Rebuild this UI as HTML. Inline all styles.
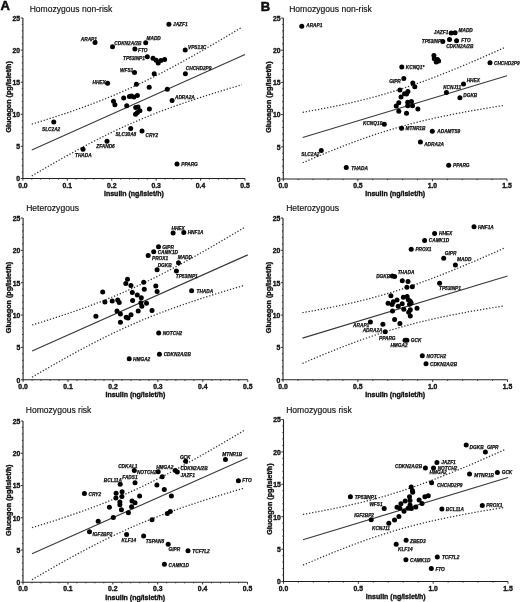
<!DOCTYPE html>
<html><head><meta charset="utf-8"><style>
html,body{margin:0;padding:0;background:#fff;}
svg{display:block;will-change:transform;}

text{font-family:"Liberation Sans", sans-serif;fill:#111;}
.tl{font-size:6.8px;font-weight:bold;stroke:#111;stroke-width:0.35px;}
.at{font-size:7px;font-weight:bold;stroke:#111;stroke-width:0.35px;}
.tt{font-size:8.55px;stroke:#111;stroke-width:0.15px;}
.lt{font-size:13px;font-weight:bold;stroke:#000;stroke-width:0.5px;}
.gl{font-size:4.75px;font-weight:bold;font-style:italic;stroke:#111;stroke-width:0.25px;}
</style></head><body>
<svg width="520" height="602" viewBox="0 0 520 602">
<rect width="520" height="602" fill="#fff"/>
<path d="M22.90 18.00V178.50H245.00" fill="none" stroke="#222" stroke-width="1.1"/>
<path d="M20.70 178.50H22.90 M21.80 172.08H22.90 M21.80 165.66H22.90 M21.80 159.24H22.90 M21.80 152.82H22.90 M20.70 146.40H22.90 M21.80 139.98H22.90 M21.80 133.56H22.90 M21.80 127.14H22.90 M21.80 120.72H22.90 M20.70 114.30H22.90 M21.80 107.88H22.90 M21.80 101.46H22.90 M21.80 95.04H22.90 M21.80 88.62H22.90 M20.70 82.20H22.90 M21.80 75.78H22.90 M21.80 69.36H22.90 M21.80 62.94H22.90 M21.80 56.52H22.90 M20.70 50.10H22.90 M21.80 43.68H22.90 M21.80 37.26H22.90 M21.80 30.84H22.90 M21.80 24.42H22.90 M20.70 18.00H22.90 M22.90 178.50V180.70 M31.78 178.50V179.60 M40.67 178.50V179.60 M49.55 178.50V179.60 M58.44 178.50V179.60 M67.32 178.50V180.70 M76.20 178.50V179.60 M85.09 178.50V179.60 M93.97 178.50V179.60 M102.86 178.50V179.60 M111.74 178.50V180.70 M120.62 178.50V179.60 M129.51 178.50V179.60 M138.39 178.50V179.60 M147.28 178.50V179.60 M156.16 178.50V180.70 M165.04 178.50V179.60 M173.93 178.50V179.60 M182.81 178.50V179.60 M191.70 178.50V179.60 M200.58 178.50V180.70 M209.46 178.50V179.60 M218.35 178.50V179.60 M227.23 178.50V179.60 M236.12 178.50V179.60 M245.00 178.50V180.70" fill="none" stroke="#222" stroke-width="0.9"/>
<text x="20.10" y="181.30" class="tl" text-anchor="end">0</text>
<text x="20.10" y="149.20" class="tl" text-anchor="end">5</text>
<text x="20.10" y="117.10" class="tl" text-anchor="end">10</text>
<text x="20.10" y="85.00" class="tl" text-anchor="end">15</text>
<text x="20.10" y="52.90" class="tl" text-anchor="end">20</text>
<text x="20.10" y="20.80" class="tl" text-anchor="end">25</text>
<text x="22.90" y="187.50" class="tl" text-anchor="middle">0.0</text>
<text x="67.32" y="187.50" class="tl" text-anchor="middle">0.1</text>
<text x="111.74" y="187.50" class="tl" text-anchor="middle">0.2</text>
<text x="156.16" y="187.50" class="tl" text-anchor="middle">0.3</text>
<text x="200.58" y="187.50" class="tl" text-anchor="middle">0.4</text>
<text x="245.00" y="187.50" class="tl" text-anchor="middle">0.5</text>
<text x="133.95" y="195.80" class="at" text-anchor="middle">Insulin (ng/islet/h)</text>
<text transform="translate(11.00 96.85) rotate(-90)" class="at" style="font-size:7.2px" text-anchor="middle">Glucagon (pg/islet/h)</text>
<text x="29.70" y="11.90" class="tt">Homozygous non-risk</text>
<text x="0.60" y="10.10" class="lt">A</text>
<path d="M31.78 150.06L245.00 54.59" stroke="#3a3a3a" stroke-width="1.15" fill="none"/>
<path d="M31.78 124.16L37.04 122.54L42.29 120.91L47.54 119.25L52.79 117.57L58.05 115.85L63.30 114.11L68.55 112.34L73.81 110.53L79.06 108.68L84.31 106.79L89.56 104.86L94.82 102.88L100.07 100.85L105.32 98.77L110.57 96.63L115.83 94.44L121.08 92.19L126.33 89.88L131.58 87.51L136.84 85.08L142.09 82.59L147.34 80.04L152.60 77.44L157.85 74.78L163.10 72.08L168.35 69.32L173.61 66.52L178.86 63.68L184.11 60.80L189.36 57.88L194.62 54.93L199.87 51.95L205.12 48.94L210.37 45.90L215.63 42.84L220.88 39.76L226.13 36.66L231.39 33.54L236.64 30.40L241.89 27.24" stroke="#333" stroke-width="1.25" fill="none" stroke-dasharray="1.3 1.8"/>
<path d="M31.78 175.96L37.04 172.87L42.29 169.80L47.54 166.76L52.79 163.74L58.05 160.75L63.30 157.78L68.55 154.85L73.81 151.96L79.06 149.10L84.31 146.29L89.56 143.52L94.82 140.79L100.07 138.12L105.32 135.50L110.57 132.93L115.83 130.42L121.08 127.97L126.33 125.58L131.58 123.24L136.84 120.97L142.09 118.75L147.34 116.60L152.60 114.50L157.85 112.45L163.10 110.45L168.35 108.50L173.61 106.60L178.86 104.73L184.11 102.91L189.36 101.13L194.62 99.37L199.87 97.65L205.12 95.96L210.37 94.29L215.63 92.65L220.88 91.03L226.13 89.43L231.39 87.84L236.64 86.28L241.89 84.73" stroke="#333" stroke-width="1.25" fill="none" stroke-dasharray="1.3 1.8"/>
<path d="M283.30 18.00V179.00H507.00" fill="none" stroke="#222" stroke-width="1.1"/>
<path d="M281.10 179.00H283.30 M282.20 172.56H283.30 M282.20 166.12H283.30 M282.20 159.68H283.30 M282.20 153.24H283.30 M281.10 146.80H283.30 M282.20 140.36H283.30 M282.20 133.92H283.30 M282.20 127.48H283.30 M282.20 121.04H283.30 M281.10 114.60H283.30 M282.20 108.16H283.30 M282.20 101.72H283.30 M282.20 95.28H283.30 M282.20 88.84H283.30 M281.10 82.40H283.30 M282.20 75.96H283.30 M282.20 69.52H283.30 M282.20 63.08H283.30 M282.20 56.64H283.30 M281.10 50.20H283.30 M282.20 43.76H283.30 M282.20 37.32H283.30 M282.20 30.88H283.30 M282.20 24.44H283.30 M281.10 18.00H283.30 M283.30 179.00V181.20 M298.21 179.00V180.10 M313.13 179.00V180.10 M328.04 179.00V180.10 M342.95 179.00V180.10 M357.87 179.00V181.20 M372.78 179.00V180.10 M387.69 179.00V180.10 M402.61 179.00V180.10 M417.52 179.00V180.10 M432.43 179.00V181.20 M447.35 179.00V180.10 M462.26 179.00V180.10 M477.17 179.00V180.10 M492.09 179.00V180.10 M507.00 179.00V181.20" fill="none" stroke="#222" stroke-width="0.9"/>
<text x="280.50" y="181.80" class="tl" text-anchor="end">0</text>
<text x="280.50" y="149.60" class="tl" text-anchor="end">5</text>
<text x="280.50" y="117.40" class="tl" text-anchor="end">10</text>
<text x="280.50" y="85.20" class="tl" text-anchor="end">15</text>
<text x="280.50" y="53.00" class="tl" text-anchor="end">20</text>
<text x="280.50" y="20.80" class="tl" text-anchor="end">25</text>
<text x="283.30" y="188.00" class="tl" text-anchor="middle">0.0</text>
<text x="357.87" y="188.00" class="tl" text-anchor="middle">0.5</text>
<text x="432.43" y="188.00" class="tl" text-anchor="middle">1.0</text>
<text x="507.00" y="188.00" class="tl" text-anchor="middle">1.5</text>
<text x="395.15" y="196.30" class="at" text-anchor="middle">Insulin (ng/islet/h)</text>
<text transform="translate(271.40 97.10) rotate(-90)" class="at" style="font-size:7.2px" text-anchor="middle">Glucagon (pg/islet/h)</text>
<text x="289.20" y="11.90" class="tt">Homozygous non-risk</text>
<text x="260.80" y="10.60" class="lt">B</text>
<path d="M302.69 137.53L507.00 75.71" stroke="#3a3a3a" stroke-width="1.15" fill="none"/>
<path d="M302.69 112.28L307.72 111.40L312.75 110.50L317.78 109.57L322.81 108.62L327.83 107.64L332.86 106.64L337.89 105.60L342.92 104.52L347.95 103.41L352.98 102.26L358.01 101.07L363.04 99.84L368.07 98.56L373.10 97.24L378.13 95.87L383.16 94.44L388.19 92.97L393.22 91.45L398.25 89.88L403.28 88.26L408.31 86.58L413.34 84.86L418.37 83.10L423.40 81.29L428.43 79.43L433.45 77.54L438.48 75.60L443.51 73.63L448.54 71.63L453.57 69.59L458.60 67.53L463.63 65.43L468.66 63.31L473.69 61.17L478.72 59.01L483.75 56.82L488.78 54.61L493.81 52.39L498.84 50.15L503.87 47.90" stroke="#333" stroke-width="1.25" fill="none" stroke-dasharray="1.3 1.8"/>
<path d="M302.69 162.78L307.72 160.61L312.75 158.47L317.78 156.35L322.81 154.26L327.83 152.19L332.86 150.15L337.89 148.15L342.92 146.18L347.95 144.25L352.98 142.35L358.01 140.50L363.04 138.69L368.07 136.92L373.10 135.20L378.13 133.53L383.16 131.91L388.19 130.34L393.22 128.82L398.25 127.34L403.28 125.92L408.31 124.55L413.34 123.23L418.37 121.95L423.40 120.72L428.43 119.53L433.45 118.38L438.48 117.27L443.51 116.20L448.54 115.16L453.57 114.15L458.60 113.17L463.63 112.22L468.66 111.30L473.69 110.40L478.72 109.52L483.75 108.66L488.78 107.82L493.81 107.00L498.84 106.19L503.87 105.40" stroke="#333" stroke-width="1.25" fill="none" stroke-dasharray="1.3 1.8"/>
<path d="M23.10 218.00V379.75H247.75" fill="none" stroke="#222" stroke-width="1.1"/>
<path d="M20.90 379.75H23.10 M22.00 373.28H23.10 M22.00 366.81H23.10 M22.00 360.34H23.10 M22.00 353.87H23.10 M20.90 347.40H23.10 M22.00 340.93H23.10 M22.00 334.46H23.10 M22.00 327.99H23.10 M22.00 321.52H23.10 M20.90 315.05H23.10 M22.00 308.58H23.10 M22.00 302.11H23.10 M22.00 295.64H23.10 M22.00 289.17H23.10 M20.90 282.70H23.10 M22.00 276.23H23.10 M22.00 269.76H23.10 M22.00 263.29H23.10 M22.00 256.82H23.10 M20.90 250.35H23.10 M22.00 243.88H23.10 M22.00 237.41H23.10 M22.00 230.94H23.10 M22.00 224.47H23.10 M20.90 218.00H23.10 M23.10 379.75V381.95 M32.09 379.75V380.85 M41.07 379.75V380.85 M50.06 379.75V380.85 M59.04 379.75V380.85 M68.03 379.75V381.95 M77.02 379.75V380.85 M86.00 379.75V380.85 M94.99 379.75V380.85 M103.97 379.75V380.85 M112.96 379.75V381.95 M121.95 379.75V380.85 M130.93 379.75V380.85 M139.92 379.75V380.85 M148.90 379.75V380.85 M157.89 379.75V381.95 M166.88 379.75V380.85 M175.86 379.75V380.85 M184.85 379.75V380.85 M193.83 379.75V380.85 M202.82 379.75V381.95 M211.81 379.75V380.85 M220.79 379.75V380.85 M229.78 379.75V380.85 M238.76 379.75V380.85 M247.75 379.75V381.95" fill="none" stroke="#222" stroke-width="0.9"/>
<text x="20.30" y="382.55" class="tl" text-anchor="end">0</text>
<text x="20.30" y="350.20" class="tl" text-anchor="end">5</text>
<text x="20.30" y="317.85" class="tl" text-anchor="end">10</text>
<text x="20.30" y="285.50" class="tl" text-anchor="end">15</text>
<text x="20.30" y="253.15" class="tl" text-anchor="end">20</text>
<text x="20.30" y="220.80" class="tl" text-anchor="end">25</text>
<text x="23.10" y="388.75" class="tl" text-anchor="middle">0.0</text>
<text x="68.03" y="388.75" class="tl" text-anchor="middle">0.1</text>
<text x="112.96" y="388.75" class="tl" text-anchor="middle">0.2</text>
<text x="157.89" y="388.75" class="tl" text-anchor="middle">0.3</text>
<text x="202.82" y="388.75" class="tl" text-anchor="middle">0.4</text>
<text x="247.75" y="388.75" class="tl" text-anchor="middle">0.5</text>
<text x="135.43" y="397.05" class="at" text-anchor="middle">Insulin (ng/islet/h)</text>
<text transform="translate(11.20 297.48) rotate(-90)" class="at" style="font-size:7.2px" text-anchor="middle">Glucagon (pg/islet/h)</text>
<text x="26.20" y="210.80" class="tt">Heterozygous</text>
<path d="M32.09 351.09L247.75 254.88" stroke="#3a3a3a" stroke-width="1.15" fill="none"/>
<path d="M32.09 324.98L37.40 323.36L42.71 321.71L48.02 320.04L53.34 318.34L58.65 316.62L63.96 314.86L69.28 313.07L74.59 311.25L79.90 309.39L85.22 307.49L90.53 305.54L95.84 303.54L101.15 301.50L106.47 299.40L111.78 297.25L117.09 295.04L122.41 292.77L127.72 290.44L133.03 288.05L138.35 285.60L143.66 283.09L148.97 280.52L154.28 277.90L159.60 275.23L164.91 272.50L170.22 269.72L175.54 266.90L180.85 264.04L186.16 261.13L191.48 258.19L196.79 255.22L202.10 252.22L207.41 249.18L212.73 246.12L218.04 243.04L223.35 239.93L228.67 236.80L233.98 233.66L239.29 230.49L244.60 227.32" stroke="#333" stroke-width="1.25" fill="none" stroke-dasharray="1.3 1.8"/>
<path d="M32.09 377.19L37.40 374.08L42.71 370.99L48.02 367.92L53.34 364.87L58.65 361.86L63.96 358.87L69.28 355.92L74.59 353.00L79.90 350.12L85.22 347.29L90.53 344.49L95.84 341.75L101.15 339.05L106.47 336.41L111.78 333.82L117.09 331.29L122.41 328.82L127.72 326.41L133.03 324.06L138.35 321.77L143.66 319.54L148.97 317.36L154.28 315.25L159.60 313.18L164.91 311.17L170.22 309.21L175.54 307.29L180.85 305.41L186.16 303.57L191.48 301.77L196.79 300.01L202.10 298.27L207.41 296.56L212.73 294.88L218.04 293.23L223.35 291.60L228.67 289.98L233.98 288.39L239.29 286.81L244.60 285.25" stroke="#333" stroke-width="1.25" fill="none" stroke-dasharray="1.3 1.8"/>
<path d="M283.00 218.00V379.75H507.50" fill="none" stroke="#222" stroke-width="1.1"/>
<path d="M280.80 379.75H283.00 M281.90 373.28H283.00 M281.90 366.81H283.00 M281.90 360.34H283.00 M281.90 353.87H283.00 M280.80 347.40H283.00 M281.90 340.93H283.00 M281.90 334.46H283.00 M281.90 327.99H283.00 M281.90 321.52H283.00 M280.80 315.05H283.00 M281.90 308.58H283.00 M281.90 302.11H283.00 M281.90 295.64H283.00 M281.90 289.17H283.00 M280.80 282.70H283.00 M281.90 276.23H283.00 M281.90 269.76H283.00 M281.90 263.29H283.00 M281.90 256.82H283.00 M280.80 250.35H283.00 M281.90 243.88H283.00 M281.90 237.41H283.00 M281.90 230.94H283.00 M281.90 224.47H283.00 M280.80 218.00H283.00 M283.00 379.75V381.95 M297.97 379.75V380.85 M312.93 379.75V380.85 M327.90 379.75V380.85 M342.87 379.75V380.85 M357.83 379.75V381.95 M372.80 379.75V380.85 M387.77 379.75V380.85 M402.73 379.75V380.85 M417.70 379.75V380.85 M432.67 379.75V381.95 M447.63 379.75V380.85 M462.60 379.75V380.85 M477.57 379.75V380.85 M492.53 379.75V380.85 M507.50 379.75V381.95" fill="none" stroke="#222" stroke-width="0.9"/>
<text x="280.20" y="382.55" class="tl" text-anchor="end">0</text>
<text x="280.20" y="350.20" class="tl" text-anchor="end">5</text>
<text x="280.20" y="317.85" class="tl" text-anchor="end">10</text>
<text x="280.20" y="285.50" class="tl" text-anchor="end">15</text>
<text x="280.20" y="253.15" class="tl" text-anchor="end">20</text>
<text x="280.20" y="220.80" class="tl" text-anchor="end">25</text>
<text x="283.00" y="388.75" class="tl" text-anchor="middle">0.0</text>
<text x="357.83" y="388.75" class="tl" text-anchor="middle">0.5</text>
<text x="432.67" y="388.75" class="tl" text-anchor="middle">1.0</text>
<text x="507.50" y="388.75" class="tl" text-anchor="middle">1.5</text>
<text x="395.25" y="397.05" class="at" text-anchor="middle">Insulin (ng/islet/h)</text>
<text transform="translate(271.10 297.48) rotate(-90)" class="at" style="font-size:7.2px" text-anchor="middle">Glucagon (pg/islet/h)</text>
<text x="286.20" y="210.80" class="tt">Heterozygous</text>
<path d="M302.46 338.08L507.50 275.97" stroke="#3a3a3a" stroke-width="1.15" fill="none"/>
<path d="M302.46 312.72L307.50 311.83L312.55 310.93L317.60 310.00L322.65 309.04L327.69 308.06L332.74 307.05L337.79 306.00L342.84 304.93L347.88 303.81L352.93 302.66L357.98 301.46L363.03 300.22L368.07 298.94L373.12 297.61L378.17 296.23L383.22 294.80L388.26 293.32L393.31 291.79L398.36 290.21L403.41 288.58L408.45 286.90L413.50 285.18L418.55 283.40L423.60 281.58L428.64 279.72L433.69 277.81L438.74 275.87L443.79 273.89L448.83 271.88L453.88 269.83L458.93 267.76L463.98 265.65L469.02 263.52L474.07 261.37L479.12 259.20L484.17 257.00L489.21 254.79L494.26 252.55L499.31 250.30L504.36 248.04" stroke="#333" stroke-width="1.25" fill="none" stroke-dasharray="1.3 1.8"/>
<path d="M302.46 363.45L307.50 361.28L312.55 359.12L317.60 356.99L322.65 354.89L327.69 352.81L332.74 350.77L337.79 348.76L342.84 346.78L347.88 344.84L352.93 342.93L357.98 341.07L363.03 339.25L368.07 337.48L373.12 335.75L378.17 334.07L383.22 332.44L388.26 330.86L393.31 329.33L398.36 327.85L403.41 326.43L408.45 325.05L413.50 323.72L418.55 322.43L423.60 321.20L428.64 320.00L433.69 318.85L438.74 317.73L443.79 316.65L448.83 315.61L453.88 314.60L458.93 313.62L463.98 312.66L469.02 311.73L474.07 310.83L479.12 309.94L484.17 309.08L489.21 308.24L494.26 307.41L499.31 306.61L504.36 305.81" stroke="#333" stroke-width="1.25" fill="none" stroke-dasharray="1.3 1.8"/>
<path d="M23.00 421.00V582.25H247.50" fill="none" stroke="#222" stroke-width="1.1"/>
<path d="M20.80 582.25H23.00 M21.90 575.80H23.00 M21.90 569.35H23.00 M21.90 562.90H23.00 M21.90 556.45H23.00 M20.80 550.00H23.00 M21.90 543.55H23.00 M21.90 537.10H23.00 M21.90 530.65H23.00 M21.90 524.20H23.00 M20.80 517.75H23.00 M21.90 511.30H23.00 M21.90 504.85H23.00 M21.90 498.40H23.00 M21.90 491.95H23.00 M20.80 485.50H23.00 M21.90 479.05H23.00 M21.90 472.60H23.00 M21.90 466.15H23.00 M21.90 459.70H23.00 M20.80 453.25H23.00 M21.90 446.80H23.00 M21.90 440.35H23.00 M21.90 433.90H23.00 M21.90 427.45H23.00 M20.80 421.00H23.00 M23.00 582.25V584.45 M31.98 582.25V583.35 M40.96 582.25V583.35 M49.94 582.25V583.35 M58.92 582.25V583.35 M67.90 582.25V584.45 M76.88 582.25V583.35 M85.86 582.25V583.35 M94.84 582.25V583.35 M103.82 582.25V583.35 M112.80 582.25V584.45 M121.78 582.25V583.35 M130.76 582.25V583.35 M139.74 582.25V583.35 M148.72 582.25V583.35 M157.70 582.25V584.45 M166.68 582.25V583.35 M175.66 582.25V583.35 M184.64 582.25V583.35 M193.62 582.25V583.35 M202.60 582.25V584.45 M211.58 582.25V583.35 M220.56 582.25V583.35 M229.54 582.25V583.35 M238.52 582.25V583.35 M247.50 582.25V584.45" fill="none" stroke="#222" stroke-width="0.9"/>
<text x="20.20" y="585.05" class="tl" text-anchor="end">0</text>
<text x="20.20" y="552.80" class="tl" text-anchor="end">5</text>
<text x="20.20" y="520.55" class="tl" text-anchor="end">10</text>
<text x="20.20" y="488.30" class="tl" text-anchor="end">15</text>
<text x="20.20" y="456.05" class="tl" text-anchor="end">20</text>
<text x="20.20" y="423.80" class="tl" text-anchor="end">25</text>
<text x="23.00" y="591.25" class="tl" text-anchor="middle">0.0</text>
<text x="67.90" y="591.25" class="tl" text-anchor="middle">0.1</text>
<text x="112.80" y="591.25" class="tl" text-anchor="middle">0.2</text>
<text x="157.70" y="591.25" class="tl" text-anchor="middle">0.3</text>
<text x="202.60" y="591.25" class="tl" text-anchor="middle">0.4</text>
<text x="247.50" y="591.25" class="tl" text-anchor="middle">0.5</text>
<text x="135.25" y="599.55" class="at" text-anchor="middle">Insulin (ng/islet/h)</text>
<text transform="translate(11.10 500.23) rotate(-90)" class="at" style="font-size:7.2px" text-anchor="middle">Glucagon (pg/islet/h)</text>
<text x="25.80" y="412.80" class="tt">Homozygous risk</text>
<path d="M31.98 553.68L247.50 457.76" stroke="#3a3a3a" stroke-width="1.15" fill="none"/>
<path d="M31.98 527.65L37.29 526.03L42.60 524.39L47.91 522.72L53.22 521.03L58.53 519.31L63.84 517.56L69.15 515.78L74.46 513.96L79.76 512.11L85.07 510.21L90.38 508.27L95.69 506.28L101.00 504.24L106.31 502.15L111.62 500.00L116.93 497.80L122.24 495.54L127.55 493.21L132.86 490.83L138.17 488.39L143.48 485.89L148.79 483.33L154.10 480.72L159.41 478.05L164.72 475.33L170.03 472.56L175.33 469.75L180.64 466.90L185.95 464.00L191.26 461.07L196.57 458.11L201.88 455.11L207.19 452.08L212.50 449.03L217.81 445.96L223.12 442.86L228.43 439.75L233.74 436.61L239.05 433.46L244.36 430.29" stroke="#333" stroke-width="1.25" fill="none" stroke-dasharray="1.3 1.8"/>
<path d="M31.98 579.70L37.29 576.60L42.60 573.51L47.91 570.45L53.22 567.42L58.53 564.41L63.84 561.44L69.15 558.49L74.46 555.58L79.76 552.72L85.07 549.89L90.38 547.10L95.69 544.37L101.00 541.68L106.31 539.05L111.62 536.47L116.93 533.94L122.24 531.48L127.55 529.08L132.86 526.73L138.17 524.45L143.48 522.23L148.79 520.06L154.10 517.95L159.41 515.89L164.72 513.88L170.03 511.92L175.33 510.01L180.64 508.14L185.95 506.31L191.26 504.51L196.57 502.75L201.88 501.02L207.19 499.32L212.50 497.65L217.81 496.00L223.12 494.37L228.43 492.76L233.74 491.17L239.05 489.60L244.36 488.04" stroke="#333" stroke-width="1.25" fill="none" stroke-dasharray="1.3 1.8"/>
<path d="M283.50 419.50V581.50H508.00" fill="none" stroke="#222" stroke-width="1.1"/>
<path d="M281.30 581.50H283.50 M282.40 575.02H283.50 M282.40 568.54H283.50 M282.40 562.06H283.50 M282.40 555.58H283.50 M281.30 549.10H283.50 M282.40 542.62H283.50 M282.40 536.14H283.50 M282.40 529.66H283.50 M282.40 523.18H283.50 M281.30 516.70H283.50 M282.40 510.22H283.50 M282.40 503.74H283.50 M282.40 497.26H283.50 M282.40 490.78H283.50 M281.30 484.30H283.50 M282.40 477.82H283.50 M282.40 471.34H283.50 M282.40 464.86H283.50 M282.40 458.38H283.50 M281.30 451.90H283.50 M282.40 445.42H283.50 M282.40 438.94H283.50 M282.40 432.46H283.50 M282.40 425.98H283.50 M281.30 419.50H283.50 M283.50 581.50V583.70 M298.47 581.50V582.60 M313.43 581.50V582.60 M328.40 581.50V582.60 M343.37 581.50V582.60 M358.33 581.50V583.70 M373.30 581.50V582.60 M388.27 581.50V582.60 M403.23 581.50V582.60 M418.20 581.50V582.60 M433.17 581.50V583.70 M448.13 581.50V582.60 M463.10 581.50V582.60 M478.07 581.50V582.60 M493.03 581.50V582.60 M508.00 581.50V583.70" fill="none" stroke="#222" stroke-width="0.9"/>
<text x="280.70" y="584.30" class="tl" text-anchor="end">0</text>
<text x="280.70" y="551.90" class="tl" text-anchor="end">5</text>
<text x="280.70" y="519.50" class="tl" text-anchor="end">10</text>
<text x="280.70" y="487.10" class="tl" text-anchor="end">15</text>
<text x="280.70" y="454.70" class="tl" text-anchor="end">20</text>
<text x="280.70" y="422.30" class="tl" text-anchor="end">25</text>
<text x="283.50" y="590.50" class="tl" text-anchor="middle">0.0</text>
<text x="358.33" y="590.50" class="tl" text-anchor="middle">0.5</text>
<text x="433.17" y="590.50" class="tl" text-anchor="middle">1.0</text>
<text x="508.00" y="590.50" class="tl" text-anchor="middle">1.5</text>
<text x="395.75" y="598.80" class="at" text-anchor="middle">Insulin (ng/islet/h)</text>
<text transform="translate(271.60 499.10) rotate(-90)" class="at" style="font-size:7.2px" text-anchor="middle">Glucagon (pg/islet/h)</text>
<text x="286.20" y="412.80" class="tt">Homozygous risk</text>
<path d="M302.96 539.77L508.00 477.56" stroke="#3a3a3a" stroke-width="1.15" fill="none"/>
<path d="M302.96 514.36L308.00 513.48L313.05 512.57L318.10 511.64L323.15 510.69L328.19 509.70L333.24 508.69L338.29 507.64L343.34 506.56L348.38 505.44L353.43 504.29L358.48 503.09L363.53 501.85L368.57 500.56L373.62 499.23L378.67 497.85L383.72 496.42L388.76 494.94L393.81 493.41L398.86 491.82L403.91 490.19L408.95 488.51L414.00 486.78L419.05 485.00L424.10 483.18L429.14 481.31L434.19 479.41L439.24 477.46L444.29 475.48L449.33 473.46L454.38 471.41L459.43 469.33L464.48 467.23L469.52 465.10L474.57 462.94L479.62 460.76L484.67 458.56L489.71 456.34L494.76 454.11L499.81 451.85L504.86 449.59" stroke="#333" stroke-width="1.25" fill="none" stroke-dasharray="1.3 1.8"/>
<path d="M302.96 565.18L308.00 563.00L313.05 560.84L318.10 558.71L323.15 556.60L328.19 554.52L333.24 552.47L338.29 550.46L343.34 548.48L348.38 546.53L353.43 544.62L358.48 542.76L363.53 540.94L368.57 539.16L373.62 537.43L378.67 535.75L383.72 534.12L388.76 532.53L393.81 531.00L398.86 529.52L403.91 528.09L408.95 526.71L414.00 525.38L419.05 524.10L424.10 522.86L429.14 521.66L434.19 520.50L439.24 519.39L444.29 518.31L449.33 517.26L454.38 516.25L459.43 515.26L464.48 514.31L469.52 513.38L474.57 512.47L479.62 511.59L484.67 510.72L489.71 509.88L494.76 509.05L499.81 508.24L504.86 507.45" stroke="#333" stroke-width="1.25" fill="none" stroke-dasharray="1.3 1.8"/>
<g fill="#000"><circle cx="95" cy="42.5" r="2.5"/><circle cx="112.5" cy="46.75" r="2.5"/><circle cx="168.9" cy="24.2" r="2.5"/><circle cx="145.7" cy="42.8" r="2.5"/><circle cx="134.9" cy="48.9" r="2.5"/><circle cx="147.3" cy="56.7" r="2.5"/><circle cx="185.2" cy="50.1" r="2.5"/><circle cx="153" cy="58.3" r="2.5"/><circle cx="156.1" cy="60.2" r="2.5"/><circle cx="158.2" cy="62.9" r="2.5"/><circle cx="160.9" cy="60.5" r="2.5"/><circle cx="164.6" cy="59.5" r="2.5"/><circle cx="134.5" cy="72.5" r="2.5"/><circle cx="154.2" cy="73.8" r="2.5"/><circle cx="185.4" cy="73.8" r="2.5"/><circle cx="107.6" cy="83.2" r="2.5"/><circle cx="136.4" cy="84.3" r="2.5"/><circle cx="149.2" cy="87.3" r="2.5"/><circle cx="167.3" cy="89.2" r="2.5"/><circle cx="172.1" cy="100.5" r="2.5"/><circle cx="113.5" cy="101.3" r="2.5"/><circle cx="114.9" cy="104.8" r="2.5"/><circle cx="123.7" cy="98.1" r="2.5"/><circle cx="129.4" cy="96.6" r="2.5"/><circle cx="131.5" cy="96" r="2.5"/><circle cx="133.9" cy="96.9" r="2.5"/><circle cx="137.4" cy="95.5" r="2.5"/><circle cx="126.7" cy="105.7" r="2.5"/><circle cx="135.7" cy="107.5" r="2.5"/><circle cx="138" cy="106.9" r="2.5"/><circle cx="139.9" cy="110.8" r="2.5"/><circle cx="137.4" cy="112.6" r="2.5"/><circle cx="135.5" cy="114.2" r="2.5"/><circle cx="149.4" cy="108.9" r="2.5"/><circle cx="130.7" cy="128.5" r="2.5"/><circle cx="142" cy="130.9" r="2.5"/><circle cx="53.75" cy="122" r="2.5"/><circle cx="107" cy="141.25" r="2.5"/><circle cx="83" cy="149.25" r="2.5"/><circle cx="177" cy="164" r="2.5"/></g>
<g fill="#000"><circle cx="301.75" cy="26.25" r="2.5"/><circle cx="451.2" cy="33" r="2.5"/><circle cx="455.1" cy="32.7" r="2.5"/><circle cx="442.8" cy="41.5" r="2.5"/><circle cx="449.5" cy="39.6" r="2.5"/><circle cx="456.6" cy="40.7" r="2.5"/><circle cx="433.9" cy="55.6" r="2.5"/><circle cx="434.3" cy="58.8" r="2.5"/><circle cx="437.5" cy="59.5" r="2.5"/><circle cx="436.2" cy="62" r="2.5"/><circle cx="438.6" cy="61.0" r="2.5"/><circle cx="490" cy="62.8" r="2.5"/><circle cx="401.8" cy="66.9" r="2.5"/><circle cx="403.8" cy="78.5" r="2.5"/><circle cx="412.8" cy="83.1" r="2.5"/><circle cx="414.8" cy="86.7" r="2.5"/><circle cx="399.9" cy="89.9" r="2.5"/><circle cx="404.5" cy="93.7" r="2.5"/><circle cx="406.5" cy="93.9" r="2.5"/><circle cx="407.9" cy="91.5" r="2.5"/><circle cx="401" cy="97.1" r="2.5"/><circle cx="398.8" cy="102.7" r="2.5"/><circle cx="396.2" cy="106" r="2.5"/><circle cx="407.7" cy="102.3" r="2.5"/><circle cx="411.4" cy="101.4" r="2.5"/><circle cx="412.5" cy="105.8" r="2.5"/><circle cx="407.7" cy="105.8" r="2.5"/><circle cx="417.9" cy="109" r="2.5"/><circle cx="398.8" cy="111.3" r="2.5"/><circle cx="406.5" cy="113.3" r="2.5"/><circle cx="463.5" cy="84" r="2.5"/><circle cx="446.4" cy="92.4" r="2.5"/><circle cx="459.9" cy="97.7" r="2.5"/><circle cx="384.3" cy="124.3" r="2.5"/><circle cx="401.6" cy="128.2" r="2.5"/><circle cx="432.3" cy="131.2" r="2.5"/><circle cx="420.4" cy="142.1" r="2.5"/><circle cx="448.7" cy="165.2" r="2.5"/><circle cx="321.25" cy="150.5" r="2.5"/><circle cx="346.25" cy="167.5" r="2.5"/></g>
<g fill="#000"><circle cx="173.1" cy="233" r="2.5"/><circle cx="183.8" cy="232.4" r="2.5"/><circle cx="158.5" cy="246.8" r="2.5"/><circle cx="153.7" cy="251.8" r="2.5"/><circle cx="148.2" cy="255.5" r="2.5"/><circle cx="178.5" cy="262.8" r="2.5"/><circle cx="157.1" cy="269.8" r="2.5"/><circle cx="176.4" cy="271.1" r="2.5"/><circle cx="191.6" cy="290.8" r="2.5"/><circle cx="158.7" cy="333" r="2.5"/><circle cx="159.4" cy="354.2" r="2.5"/><circle cx="129.2" cy="358.8" r="2.5"/><circle cx="127.5" cy="279.3" r="2.5"/><circle cx="125.8" cy="283.5" r="2.5"/><circle cx="130.9" cy="285.6" r="2.5"/><circle cx="143.7" cy="282.2" r="2.5"/><circle cx="155.8" cy="285.9" r="2.5"/><circle cx="157.1" cy="291.6" r="2.5"/><circle cx="144.3" cy="289.2" r="2.5"/><circle cx="132.3" cy="292.4" r="2.5"/><circle cx="137.3" cy="294.9" r="2.5"/><circle cx="141.3" cy="297.8" r="2.5"/><circle cx="102.7" cy="292.1" r="2.5"/><circle cx="104.9" cy="301.9" r="2.5"/><circle cx="112.2" cy="301" r="2.5"/><circle cx="117.7" cy="300" r="2.5"/><circle cx="119.2" cy="302.6" r="2.5"/><circle cx="132.6" cy="300.5" r="2.5"/><circle cx="140.9" cy="302.8" r="2.5"/><circle cx="146.5" cy="303.3" r="2.5"/><circle cx="141.8" cy="306.3" r="2.5"/><circle cx="117" cy="311.1" r="2.5"/><circle cx="120.4" cy="314" r="2.5"/><circle cx="138.2" cy="311" r="2.5"/><circle cx="152" cy="310.4" r="2.5"/><circle cx="126.2" cy="317.2" r="2.5"/><circle cx="128" cy="318" r="2.5"/><circle cx="131" cy="314.7" r="2.5"/><circle cx="95.9" cy="316.3" r="2.5"/><circle cx="120.4" cy="322.2" r="2.5"/></g>
<g fill="#000"><circle cx="474" cy="226.7" r="2.5"/><circle cx="434.6" cy="233.5" r="2.5"/><circle cx="424.6" cy="240.6" r="2.5"/><circle cx="411.2" cy="249.2" r="2.5"/><circle cx="443.7" cy="258.3" r="2.5"/><circle cx="455.4" cy="265" r="2.5"/><circle cx="392.3" cy="276.1" r="2.5"/><circle cx="394.6" cy="276.5" r="2.5"/><circle cx="402.3" cy="280.7" r="2.5"/><circle cx="408" cy="281.6" r="2.5"/><circle cx="406.9" cy="287.3" r="2.5"/><circle cx="412.3" cy="286.8" r="2.5"/><circle cx="439.6" cy="283.3" r="2.5"/><circle cx="390.9" cy="295.7" r="2.5"/><circle cx="403.4" cy="297.3" r="2.5"/><circle cx="407.1" cy="296.5" r="2.5"/><circle cx="408.3" cy="299.7" r="2.5"/><circle cx="410.3" cy="301.3" r="2.5"/><circle cx="411.1" cy="303" r="2.5"/><circle cx="409.5" cy="304.2" r="2.5"/><circle cx="397" cy="300.1" r="2.5"/><circle cx="393.3" cy="301.7" r="2.5"/><circle cx="388.1" cy="303.3" r="2.5"/><circle cx="392.1" cy="304.6" r="2.5"/><circle cx="402.2" cy="303.8" r="2.5"/><circle cx="398.2" cy="306.2" r="2.5"/><circle cx="403.8" cy="309.2" r="2.5"/><circle cx="410.3" cy="309.8" r="2.5"/><circle cx="408.7" cy="312.2" r="2.5"/><circle cx="410.3" cy="315.9" r="2.5"/><circle cx="417" cy="308.2" r="2.5"/><circle cx="392.5" cy="311" r="2.5"/><circle cx="394.6" cy="319.5" r="2.5"/><circle cx="399.9" cy="323.6" r="2.5"/><circle cx="370.4" cy="321.9" r="2.5"/><circle cx="382.9" cy="324.2" r="2.5"/><circle cx="385.2" cy="331.7" r="2.5"/><circle cx="405" cy="340.2" r="2.5"/><circle cx="406.9" cy="340.2" r="2.5"/><circle cx="422.3" cy="355.8" r="2.5"/><circle cx="426" cy="363.7" r="2.5"/></g>
<g fill="#000"><circle cx="84.4" cy="493.6" r="2.5"/><circle cx="120.2" cy="484.3" r="2.5"/><circle cx="134.3" cy="470.5" r="2.5"/><circle cx="135" cy="482.8" r="2.5"/><circle cx="158.2" cy="471.8" r="2.5"/><circle cx="175.3" cy="470.6" r="2.5"/><circle cx="177.3" cy="472.1" r="2.5"/><circle cx="162.2" cy="476.7" r="2.5"/><circle cx="185.6" cy="461.3" r="2.5"/><circle cx="225.4" cy="459.6" r="2.5"/><circle cx="238.4" cy="480.7" r="2.5"/><circle cx="156.9" cy="484.9" r="2.5"/><circle cx="164.3" cy="489.6" r="2.5"/><circle cx="171.4" cy="495.9" r="2.5"/><circle cx="122.1" cy="491.7" r="2.5"/><circle cx="116.1" cy="493.2" r="2.5"/><circle cx="121.9" cy="496.4" r="2.5"/><circle cx="115.9" cy="498" r="2.5"/><circle cx="139.6" cy="496" r="2.5"/><circle cx="119.9" cy="501.9" r="2.5"/><circle cx="119.9" cy="504.8" r="2.5"/><circle cx="132" cy="500.9" r="2.5"/><circle cx="135" cy="502.7" r="2.5"/><circle cx="131.6" cy="506.8" r="2.5"/><circle cx="109.4" cy="507.2" r="2.5"/><circle cx="121.4" cy="509.8" r="2.5"/><circle cx="128.4" cy="512.8" r="2.5"/><circle cx="113.3" cy="517.4" r="2.5"/><circle cx="98.2" cy="521.3" r="2.5"/><circle cx="152" cy="519.7" r="2.5"/><circle cx="167.3" cy="513.6" r="2.5"/><circle cx="170.3" cy="511.6" r="2.5"/><circle cx="89.5" cy="531.7" r="2.5"/><circle cx="126.6" cy="534.5" r="2.5"/><circle cx="143.6" cy="536" r="2.5"/><circle cx="168.2" cy="544.3" r="2.5"/><circle cx="188" cy="550.7" r="2.5"/><circle cx="164.4" cy="564.3" r="2.5"/></g>
<g fill="#000"><circle cx="466.2" cy="445" r="2.5"/><circle cx="485.4" cy="451.9" r="2.5"/><circle cx="436.9" cy="462.4" r="2.5"/><circle cx="425.4" cy="468" r="2.5"/><circle cx="433.5" cy="468" r="2.5"/><circle cx="469.5" cy="474" r="2.5"/><circle cx="497.4" cy="472.6" r="2.5"/><circle cx="431.6" cy="482.8" r="2.5"/><circle cx="411.2" cy="487.1" r="2.5"/><circle cx="412.4" cy="490.5" r="2.5"/><circle cx="412.7" cy="492.2" r="2.5"/><circle cx="409.5" cy="496.8" r="2.5"/><circle cx="424.9" cy="496.8" r="2.5"/><circle cx="428.3" cy="495.8" r="2.5"/><circle cx="405.2" cy="500.9" r="2.5"/><circle cx="410" cy="500.6" r="2.5"/><circle cx="419.1" cy="499.9" r="2.5"/><circle cx="400.9" cy="503.8" r="2.5"/><circle cx="422" cy="503.5" r="2.5"/><circle cx="410" cy="504.9" r="2.5"/><circle cx="397" cy="507.3" r="2.5"/><circle cx="399.9" cy="508.3" r="2.5"/><circle cx="408.1" cy="508.3" r="2.5"/><circle cx="411.4" cy="508.6" r="2.5"/><circle cx="415.8" cy="507" r="2.5"/><circle cx="404" cy="511.2" r="2.5"/><circle cx="398.9" cy="516.5" r="2.5"/><circle cx="394.5" cy="520.1" r="2.5"/><circle cx="388.8" cy="523.3" r="2.5"/><circle cx="384.2" cy="508.4" r="2.5"/><circle cx="350.4" cy="496.8" r="2.5"/><circle cx="371.2" cy="519.8" r="2.5"/><circle cx="441.9" cy="508.9" r="2.5"/><circle cx="482.3" cy="505.5" r="2.5"/><circle cx="406.1" cy="540.3" r="2.5"/><circle cx="396.2" cy="544.3" r="2.5"/><circle cx="405.9" cy="559.7" r="2.5"/><circle cx="437.3" cy="557" r="2.5"/><circle cx="431.3" cy="568.5" r="2.5"/></g>
<text x="80.8" y="40.80" class="gl" text-anchor="start">ARAP1</text>
<text x="114.3" y="44.90" class="gl" text-anchor="start">CDKN2A/2B</text>
<text x="146.5" y="40.40" class="gl" text-anchor="start">MADD</text>
<text x="173" y="26.30" class="gl" text-anchor="start">JAZF1</text>
<text x="138" y="51.90" class="gl" text-anchor="start">FTO</text>
<text x="123" y="59.80" class="gl" text-anchor="start">TP53INP1</text>
<text x="188" y="48.50" class="gl" text-anchor="start">VPS13C</text>
<text x="120" y="71.75" class="gl" text-anchor="start">WFS1</text>
<text x="185.8" y="70.00" class="gl" text-anchor="start">CHCHD2P9</text>
<text x="92.5" y="83.50" class="gl" text-anchor="start">HHEX</text>
<text x="175" y="98.70" class="gl" text-anchor="start">ADRA2A</text>
<text x="115.4" y="135.50" class="gl" text-anchor="start">SLC30A8</text>
<text x="145.5" y="136.70" class="gl" text-anchor="start">CRY2</text>
<text x="42" y="130.50" class="gl" text-anchor="start">SLC2A2</text>
<text x="96.25" y="148.00" class="gl" text-anchor="start">ZFAND6</text>
<text x="75" y="157.00" class="gl" text-anchor="start">THADA</text>
<text x="181.25" y="166.00" class="gl" text-anchor="start">PPARG</text>
<text x="306.25" y="27.25" class="gl" text-anchor="start">ARAP1</text>
<text x="433.8" y="34.30" class="gl" text-anchor="start">JAZF1</text>
<text x="458.5" y="31.70" class="gl" text-anchor="start">MADD</text>
<text x="421.8" y="43.20" class="gl" text-anchor="start">TP53INP1</text>
<text x="461.2" y="42.00" class="gl" text-anchor="start">FTO</text>
<text x="446.2" y="48.30" class="gl" text-anchor="start">CDKN2A/2B</text>
<text x="494" y="64.60" class="gl" text-anchor="start">CHCHD2P9</text>
<text x="405.8" y="69.00" class="gl" text-anchor="start">KCNQ1*</text>
<text x="389.2" y="82.50" class="gl" text-anchor="start">GIPR</text>
<text x="466.7" y="81.50" class="gl" text-anchor="start">HHEX</text>
<text x="443.2" y="89.30" class="gl" text-anchor="start">KCNJ11</text>
<text x="463.3" y="97.00" class="gl" text-anchor="start">DGKB</text>
<text x="363" y="125.10" class="gl" text-anchor="start">KCNQ10</text>
<text x="405.6" y="130.10" class="gl" text-anchor="start">MTNR1B</text>
<text x="437.3" y="133.40" class="gl" text-anchor="start">ADAMTS9</text>
<text x="424.2" y="146.10" class="gl" text-anchor="start">ADRA2A</text>
<text x="453" y="167.00" class="gl" text-anchor="start">PPARG</text>
<text x="301.25" y="155.50" class="gl" text-anchor="start">SLC2A2</text>
<text x="351.25" y="169.75" class="gl" text-anchor="start">THADA</text>
<text x="171.5" y="229.80" class="gl" text-anchor="start">HHEX</text>
<text x="187.7" y="234.30" class="gl" text-anchor="start">HNF1A</text>
<text x="162.3" y="248.90" class="gl" text-anchor="start">GIPR</text>
<text x="157.7" y="254.00" class="gl" text-anchor="start">CAMK1D</text>
<text x="152" y="260.10" class="gl" text-anchor="start">PROX1</text>
<text x="177.7" y="258.90" class="gl" text-anchor="start">MADD</text>
<text x="157.7" y="266.70" class="gl" text-anchor="start">DGKB</text>
<text x="175.8" y="278.20" class="gl" text-anchor="start">TP53INP1</text>
<text x="196.5" y="293.00" class="gl" text-anchor="start">THADA</text>
<text x="162.7" y="334.70" class="gl" text-anchor="start">NOTCH2</text>
<text x="163.7" y="356.10" class="gl" text-anchor="start">CDKN2A/2B</text>
<text x="133.1" y="360.50" class="gl" text-anchor="start">HMGA2</text>
<text x="477.9" y="229.00" class="gl" text-anchor="start">HNF1A</text>
<text x="439" y="235.30" class="gl" text-anchor="start">HHEX</text>
<text x="428.8" y="242.40" class="gl" text-anchor="start">CAMK1D</text>
<text x="415.4" y="251.10" class="gl" text-anchor="start">PROX1</text>
<text x="444.8" y="255.10" class="gl" text-anchor="start">GIPR</text>
<text x="457.1" y="261.30" class="gl" text-anchor="start">MADD</text>
<text x="376.2" y="278.10" class="gl" text-anchor="start">DGKB</text>
<text x="397.7" y="274.00" class="gl" text-anchor="start">THADA</text>
<text x="439" y="290.10" class="gl" text-anchor="start">TP53INP1</text>
<text x="353.1" y="327.40" class="gl" text-anchor="start">ARAP1</text>
<text x="362.7" y="331.70" class="gl" text-anchor="start">ADRA2A</text>
<text x="379" y="339.70" class="gl" text-anchor="start">PPARG</text>
<text x="390.4" y="346.70" class="gl" text-anchor="start">HMGA2</text>
<text x="410.8" y="341.80" class="gl" text-anchor="start">GCK</text>
<text x="426.5" y="358.00" class="gl" text-anchor="start">NOTCH2</text>
<text x="430" y="366.00" class="gl" text-anchor="start">CDKN2A/2B</text>
<text x="88.5" y="495.80" class="gl" text-anchor="start">CRY2</text>
<text x="103.8" y="482.30" class="gl" text-anchor="start">BCL11A</text>
<text x="118.2" y="467.90" class="gl" text-anchor="start">CDKAL1</text>
<text x="122.3" y="479.00" class="gl" text-anchor="start">FADS1</text>
<text x="136.9" y="473.90" class="gl" text-anchor="start">NOTCH2</text>
<text x="156.2" y="468.50" class="gl" text-anchor="start">HMGA2</text>
<text x="179.9" y="458.70" class="gl" text-anchor="start">GCK</text>
<text x="222.3" y="456.10" class="gl" text-anchor="start">MTNR1B</text>
<text x="180.4" y="469.90" class="gl" text-anchor="start">CDKN2A/2B</text>
<text x="180.4" y="476.80" class="gl" text-anchor="start">JAZF1</text>
<text x="242.2" y="482.40" class="gl" text-anchor="start">FTO</text>
<text x="92.5" y="536.10" class="gl" text-anchor="start">IGF2BP2</text>
<text x="121.5" y="541.70" class="gl" text-anchor="start">KLF14</text>
<text x="145.7" y="542.50" class="gl" text-anchor="start">TSPAN8</text>
<text x="168.5" y="551.10" class="gl" text-anchor="start">GIPR</text>
<text x="192.3" y="552.50" class="gl" text-anchor="start">TCF7L2</text>
<text x="168.6" y="566.50" class="gl" text-anchor="start">CAMK1D</text>
<text x="469.6" y="448.60" class="gl" text-anchor="start">DGKB</text>
<text x="486.9" y="448.60" class="gl" text-anchor="start">GIPR</text>
<text x="441.2" y="464.30" class="gl" text-anchor="start">JAZF1</text>
<text x="395" y="467.90" class="gl" text-anchor="start">CDKN2A/2B</text>
<text x="437.7" y="470.10" class="gl" text-anchor="start">NOTCH2</text>
<text x="429.6" y="474.00" class="gl" text-anchor="start">HMGA2</text>
<text x="474.2" y="476.50" class="gl" text-anchor="start">MTNR1B</text>
<text x="501.7" y="474.30" class="gl" text-anchor="start">GCK</text>
<text x="436.9" y="487.00" class="gl" text-anchor="start">CHCHD2P9</text>
<text x="354.7" y="498.70" class="gl" text-anchor="start">TP53INP1</text>
<text x="369.4" y="506.10" class="gl" text-anchor="start">WFS1</text>
<text x="354.2" y="516.80" class="gl" text-anchor="start">IGF2BP2</text>
<text x="372" y="529.80" class="gl" text-anchor="start">KCNJ11</text>
<text x="445.8" y="510.60" class="gl" text-anchor="start">BCL11A</text>
<text x="486.2" y="507.40" class="gl" text-anchor="start">PROX1</text>
<text x="410" y="542.50" class="gl" text-anchor="start">ZBED3</text>
<text x="398" y="551.00" class="gl" text-anchor="start">KLF14</text>
<text x="410" y="561.60" class="gl" text-anchor="start">CAMK1D</text>
<text x="441.9" y="558.60" class="gl" text-anchor="start">TCF7L2</text>
<text x="435.4" y="570.60" class="gl" text-anchor="start">FTO</text>
</svg>
</body></html>
